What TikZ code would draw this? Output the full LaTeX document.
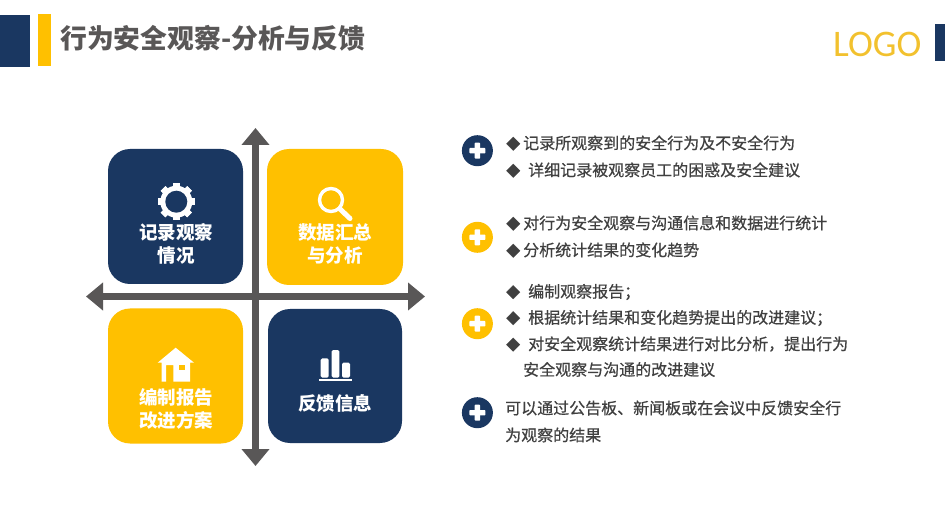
\documentclass[tikz,border=0pt]{standalone}
\usepackage{fontspec}
\usetikzlibrary{arrows.meta,calc}
\setmainfont{Noto Sans CJK SC}
\newfontfamily\logofont{Carlito}
\newfontfamily\bodyfont[FakeBold=0.6]{Noto Sans CJK SC}
\definecolor{navy}{HTML}{1A3761}
\definecolor{gold}{HTML}{FFC000}
\definecolor{axisgrey}{HTML}{595757}
\definecolor{bodytext}{HTML}{404040}
\definecolor{logogold}{HTML}{F2C12E}
\newcommand{\dia}[1]{\makebox[#1][l]{\fontsize{14pt}{14pt}\selectfont ◆}}
\tikzset{
  card/.style={draw=none,rounded corners=22pt,inner sep=0pt,minimum width=135pt,minimum height=135pt},
  cardtext/.style={text=white,font=\fontsize{18.5pt}{23pt}\selectfont\bfseries,align=center,inner sep=0pt},
  axisline/.style={draw=axisgrey,line width=7pt,{Triangle[width=27pt,length=17pt,fill=axisgrey]}-{Triangle[width=27pt,length=17pt,fill=axisgrey]}},
  badge/.style={circle,minimum size=31pt,inner sep=0pt},
  plusbar/.style={fill=white,draw=none},
  line/.style={anchor=west,inner sep=0pt,text=bodytext,font=\bodyfont\fontsize{16pt}{16pt}\selectfont}
}
\begin{document}
\begin{tikzpicture}[x=1pt,y=-1pt]
\useasboundingbox (0,0) rectangle (945,529);
\fill[white] (0,0) rectangle (945,529);
% header
\fill[navy] (0,15) rectangle (30,67);
\fill[gold] (38,14) rectangle (51,66);
\fill[navy] (935,24) rectangle (945,61);
\node[anchor=west,inner sep=0pt,text=axisgrey,font=\fontsize{26.8pt}{27pt}\selectfont\bfseries] (title) at (60,38.5) {行为安全观察-分析与反馈};
\node[anchor=west,inner sep=0pt,text=logogold,font=\logofont\fontsize{37.5pt}{37.5pt}\selectfont] (logo) at (833,44.5) {LOGO};
% axes
\coordinate (vtop) at (255.5,128);
\coordinate (vbot) at (255.5,466);
\coordinate (hleft) at (86,296.5);
\coordinate (hright) at (425,296.5);
\draw[axisline] (vtop) -- (vbot);
\draw[axisline] (hleft) -- (hright);
% cards
\node[card,fill=navy] (c1) at (175.5,216.5) {};
\node[card,fill=gold,minimum width=136pt,minimum height=136pt] (c2) at (335,217) {};
\node[card,fill=gold] (c3) at (175.5,376) {};
\node[card,fill=navy,minimum width=134pt,minimum height=134pt] (c4) at (335,376) {};
\node[cardtext] (c1t) at (176,243.5) {记录观察\\情况};
\node[cardtext] (c2t) at (335,243.5) {数据汇总\\与分析};
\node[cardtext] (c3t) at (176,408.5) {编制报告\\改进方案};
\node[cardtext] (c4t) at (335,403) {反馈信息};
% gear
\foreach \a in {0,45,...,315}
  \fill[white,rotate around={\a:(176.3,201.7)}] (173,183) rectangle (179.6,220.4);
\fill[white] (176.3,201.7) circle (16);
\fill[navy] (176.3,201.7) circle (11);
% magnifier
\draw[white,line width=3.4pt] (331,200) circle (11.5);
\draw[white,line width=5pt,line cap=round] (340,209) -- (350,218.5);
% house
\fill[white] (175.7,347.7) -- (194,362.7) -- (190,362.7) -- (190,381.7) -- (173.3,381.7) -- (173.3,365) -- (166,365) -- (166,381.7) -- (161.7,381.7) -- (161.7,362.7) -- (157.7,362.7) -- cycle;
\fill[gold] (178.7,365) rectangle (185.3,370);
% bars
\fill[white,rounded corners=1.5pt] (320.7,377.7) |- (328.7,358.3) -- (328.7,377.7) -- cycle;
\fill[white,rounded corners=1.5pt] (331.7,377.7) |- (339.3,350) -- (339.3,377.7) -- cycle;
\fill[white,rounded corners=1.5pt] (342,377.7) |- (350,362.7) -- (350,377.7) -- cycle;
\fill[white] (319,378.5) rectangle (351.7,381);
% badges
\foreach \n/\cy/\col in {b1/150.7/navy,b2/237.3/gold,b3/323.7/gold,b4/412.7/navy}{
  \node[badge,fill=\col] (\n) at (477.4,\cy) {};
  \fill[plusbar,rounded corners=0.8pt] ($(\n.center)+(-8,-2.7)$) rectangle ($(\n.center)+(8,2.7)$);
  \fill[plusbar,rounded corners=0.8pt] ($(\n.center)+(-2.7,-8)$) rectangle ($(\n.center)+(2.7,8)$);
}
% text
\node[line] (t1) at (506,143) {\dia{17pt}记录所观察到的安全行为及不安全行为};
\node[line] (t2) at (506,170) {\dia{22pt}详细记录被观察员工的困惑及安全建议};
\node[line] (t3) at (506,223) {\dia{17pt}对行为安全观察与沟通信息和数据进行统计};
\node[line] (t4) at (506,250) {\dia{17pt}分析统计结果的变化趋势};
\node[line] (t5) at (506,292) {\dia{22pt}编制观察报告^^^^ff1b};
\node[line] (t6) at (506,318) {\dia{22pt}根据统计结果和变化趋势提出的改进建议^^^^ff1b};
\node[line] (t7) at (506,344) {\dia{22pt}对安全观察统计结果进行对比分析^^^^ff0c提出行为};
\node[line] (t8) at (523,369.5) {安全观察与沟通的改进建议};
\node[line] (t9) at (505,408) {可以通过公告板、新闻板或在会议中反馈安全行};
\node[line] (t10) at (505,435) {为观察的结果};
\end{tikzpicture}
\end{document}
